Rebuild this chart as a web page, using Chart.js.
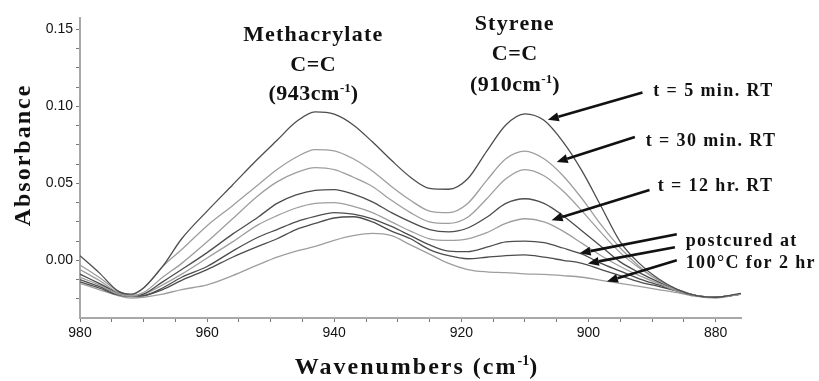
<!DOCTYPE html>
<html><head><meta charset="utf-8">
<script src="https://cdn.jsdelivr.net/npm/chart.js@4.4.1/dist/chart.umd.min.js"></script>
<style>html,body{margin:0;padding:0;background:#fff;}#wrap{width:819px;height:381px;}</style>
</head><body><div id="wrap"><canvas id="c" width="819" height="381"></canvas></div>
<script>
// Wavenumbers (cm-1), x axis runs from high to low
const wavenumbers = [980,977,974,972,970,967,964,960,956,952,949,946,943,940,937,934,931,928,925,922,919,916,913,910,907,904,901,898,895,892,889,886,883,880,876];
// Absorbance spectra, top to bottom at the 943 cm-1 peak
const specT5min  = [0.003,-0.008,-0.020,-0.022,-0.018,-0.004,0.014,0.032,0.049,0.066,0.078,0.090,0.0965,0.095,0.088,0.077,0.065,0.054,0.0468,0.0462,0.053,0.071,0.088,0.0952,0.091,0.077,0.058,0.035,0.012,-0.002,-0.012,-0.019,-0.023,-0.024,-0.0215];
const specT30min = [-0.003,-0.011,-0.020,-0.0225,-0.018,-0.004,0.007,0.0225,0.0355,0.049,0.059,0.067,0.072,0.0712,0.066,0.058,0.048,0.039,0.032,0.031,0.037,0.052,0.066,0.071,0.066,0.055,0.040,0.023,0.008,-0.004,-0.013,-0.019,-0.023,-0.024,-0.022];
const specT3     = [-0.006,-0.013,-0.021,-0.023,-0.021,-0.011,-0.002,0.012,0.027,0.042,0.051,0.057,0.0603,0.059,0.054,0.048,0.039,0.031,0.025,0.024,0.028,0.040,0.053,0.059,0.055,0.045,0.032,0.018,0.005,-0.005,-0.013,-0.019,-0.023,-0.024,-0.022];
const specT12hr  = [-0.009,-0.015,-0.021,-0.023,-0.022,-0.014,-0.006,0.005,0.017,0.028,0.037,0.0425,0.0455,0.046,0.043,0.038,0.031,0.025,0.020,0.0185,0.021,0.028,0.037,0.040,0.037,0.029,0.019,0.009,-0.001,-0.008,-0.014,-0.019,-0.023,-0.024,-0.022];
const specT5     = [-0.011,-0.016,-0.022,-0.0235,-0.022,-0.016,-0.009,0.0015,0.012,0.023,0.029,0.034,0.037,0.0375,0.035,0.031,0.025,0.019,0.014,0.013,0.014,0.018,0.024,0.027,0.025,0.019,0.011,0.003,-0.004,-0.010,-0.015,-0.020,-0.023,-0.024,-0.022];
const specPost1  = [-0.0125,-0.017,-0.022,-0.0235,-0.023,-0.018,-0.011,-0.004,0.006,0.015,0.020,0.025,0.0285,0.031,0.030,0.027,0.022,0.016,0.010,0.0060,0.0056,0.0085,0.012,0.0125,0.0115,0.008,0.004,-0.002,-0.007,-0.012,-0.016,-0.020,-0.023,-0.024,-0.022];
const specPost2  = [-0.014,-0.018,-0.0225,-0.0235,-0.023,-0.019,-0.013,-0.006,0.002,0.009,0.014,0.020,0.024,0.0275,0.0283,0.025,0.019,0.014,0.007,0.003,0.001,0.002,0.003,0.0035,0.002,0.000,-0.002,-0.006,-0.010,-0.014,-0.017,-0.020,-0.023,-0.024,-0.022];
const specPost3  = [-0.015,-0.019,-0.023,-0.0245,-0.024,-0.022,-0.019,-0.016,-0.010,-0.003,0.002,0.006,0.009,0.013,0.016,0.0175,0.016,0.010,0.004,-0.002,-0.006,-0.0075,-0.008,-0.0088,-0.0092,-0.010,-0.011,-0.013,-0.015,-0.017,-0.019,-0.021,-0.0235,-0.0245,-0.022];
const seriesList = [specT5min, specT30min, specT3, specT12hr, specT5, specPost1, specPost2, specPost3];
const seriesShade = ['dark','light','light','dark','light','dark','dark','light'];
// Axis tick labels
const xTickLabels = [980, 960, 940, 920, 900, 880];
const yTickLabels = ['0.00', '0.05', '0.10', '0.15'];
// Annotation texts
const peakTitles = [['Methacrylate','C=C','(943cm','-1',')'],['Styrene','C=C','(910cm','-1',')']];
const arrowTexts = ['t = 5 min. RT','t = 30 min. RT','t = 12 hr. RT','postcured at','100°C for 2 hr'];

const SHADE = {dark:'#4d4d4d', light:'#9e9e9e'};
const SERIF = '"Liberation Serif","Times New Roman",serif';

// annotation layout, in data coordinates (wavenumber, absorbance)
const peakPos = [{w:943.3, y:[0.1480,0.1285,0.1096]},{w:911.6, y:[0.1546,0.1357,0.1155]}];
const textPos = [{w:889.8,v:0.1109},{w:891.0,v:0.0783},{w:889.1,v:0.0489},{w:884.7,v:0.0130},{w:884.7,v:-0.0013}];
const arrowPos = [
  [[891.5,0.109],[906.4,0.0913]],
  [[892.7,0.0802],[905.0,0.0639]],
  [[890.4,0.0457],[905.8,0.0261]],
  [[886.1,0.0170],[901.4,0.0046]],
  [[886.4,0.0085],[900.1,-0.0020]],
  [[886.1,0.0000],[897.1,-0.0137]]
];

function drawRich(ctx, parts, x, y, align){
  let widths = parts.map(p=>{ctx.font = p.font; ctx.letterSpacing = p.ls||'0px'; return ctx.measureText(p.t).width;});
  const total = widths.reduce((a,b)=>a+b,0);
  let cx = align==='center' ? x-total/2 : x;
  ctx.textAlign='left'; ctx.textBaseline='alphabetic';
  parts.forEach((p,i)=>{ctx.font=p.font; ctx.letterSpacing=p.ls||'0px'; ctx.fillText(p.t, cx, y+(p.dy||0)); cx+=widths[i];});
  ctx.letterSpacing='0px';
}

const annot = {
  id:'annot',
  afterDraw(chart){
    const ctx = chart.ctx, xs = chart.scales.x, ys = chart.scales.y;
    const px = w=>xs.getPixelForValue(w), py = v=>ys.getPixelForValue(v);
    ctx.save();
    ctx.fillStyle='#111'; ctx.strokeStyle='#111';
    peakTitles.forEach((t,i)=>{
      const pos = peakPos[i];
      const f = 'bold 22px '+SERIF;
      const fs = 'bold 13px '+SERIF;
      drawRich(ctx,[{t:t[0],font:f,ls:'1.2px'}], px(pos.w), py(pos.y[0])+8, 'center');
      drawRich(ctx,[{t:t[1],font:f,ls:'0.5px'}], px(pos.w), py(pos.y[1])+8, 'center');
      drawRich(ctx,[{t:t[2],font:f,ls:'0.5px'},{t:t[3],font:fs,dy:-8},{t:t[4],font:f}], px(pos.w), py(pos.y[2])+8, 'center');
    });
    arrowTexts.forEach((t,i)=>{
      drawRich(ctx,[{t:t,font:'bold 18px '+SERIF,ls:'1.4px'}], px(textPos[i].w), py(textPos[i].v)+6, 'left');
    });
    arrowPos.forEach(a=>{
      const x0=px(a[0][0]), y0=py(a[0][1]), x1=px(a[1][0]), y1=py(a[1][1]);
      const ang = Math.atan2(y1-y0, x1-x0);
      const hl = 11, hw = 4.5;
      const bx = x1 - hl*Math.cos(ang), by = y1 - hl*Math.sin(ang);
      ctx.lineWidth = 2.6;
      ctx.beginPath(); ctx.moveTo(x0,y0); ctx.lineTo(bx,by); ctx.stroke();
      ctx.beginPath();
      ctx.moveTo(x1,y1);
      ctx.lineTo(bx + hw*Math.sin(ang), by - hw*Math.cos(ang));
      ctx.lineTo(bx - hw*Math.sin(ang), by + hw*Math.cos(ang));
      ctx.closePath(); ctx.fill();
    });
    ctx.save();
    ctx.translate(22, 155);
    ctx.rotate(-Math.PI/2);
    drawRich(ctx,[{t:'Absorbance',font:'bold 24px '+SERIF,ls:'2px'}], 0, 8, 'center');
    ctx.restore();
    drawRich(ctx,[{t:'Wavenumbers (cm',font:'bold 24px '+SERIF,ls:'2px'},{t:'-1',font:'bold 14px '+SERIF,dy:-9},{t:')',font:'bold 24px '+SERIF}], 416, 374, 'center');
    ctx.restore();
  }
};

const datasets = seriesList.map((s,i)=>({
  data: wavenumbers.map((w,j)=>({x:w, y:s[j]})),
  borderColor: SHADE[seriesShade[i]],
  borderWidth: 1.3,
  pointRadius: 0,
  fill: false,
  cubicInterpolationMode: 'monotone'
}));

const isMult = (v,step)=>Math.abs(v/step - Math.round(v/step)) < 1e-6;

new Chart(document.getElementById('c'), {
  type:'line',
  data:{datasets},
  plugins:[annot],
  options:{
    responsive:false, animation:false,
    layout:{padding:{left:0, top:18, right:78, bottom:0}},
    plugins:{legend:{display:false}, tooltip:{enabled:false}},
    scales:{
      x:{
        type:'linear', min:876, max:980, reverse:true,
        afterFit(s){ s.height = 63; },
        border:{color:'#a8a8a8', width:2},
        grid:{drawOnChartArea:false, drawTicks:true, tickLength:4, tickColor:'#777', tickWidth:1},
        ticks:{stepSize:5, includeBounds:false, autoSkip:false, maxRotation:0, padding:3, color:'#111',
          font:{family:'"Liberation Sans",Arial,sans-serif', size:14},
          callback:(v)=> xTickLabels.includes(Math.round(v)) && isMult(v,20) ? String(Math.round(v)) : ''}
      },
      y:{
        type:'linear', min:-0.0375, max:0.1575,
        afterFit(s){ s.width = 80; },
        border:{color:'#a8a8a8', width:2},
        grid:{drawOnChartArea:false, drawTicks:true, tickLength:4, tickColor:'#777', tickWidth:1},
        ticks:{stepSize:0.0125, includeBounds:false, autoSkip:false, padding:3, color:'#111',
          font:{family:'"Liberation Sans",Arial,sans-serif', size:14},
          callback:(v)=> isMult(v,0.05) && yTickLabels.includes(v.toFixed(2)) ? v.toFixed(2) : ''}
      }
    }
  }
});
</script></body></html>
